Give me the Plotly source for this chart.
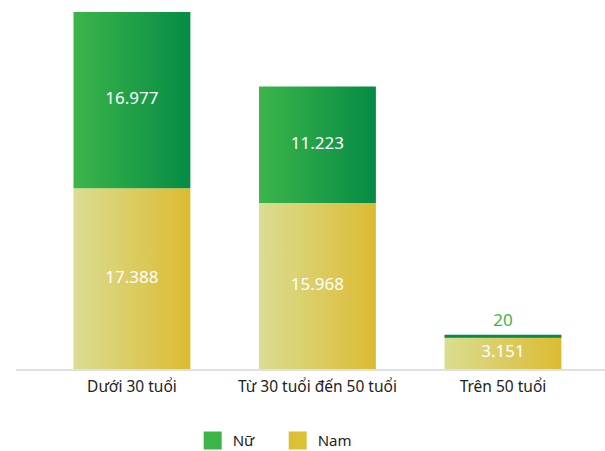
import plotly.graph_objects as go

categories = ["Dưới 30 tuổi", "Từ 30 tuổi đến 50 tuổi", "Trên 50 tuổi"]
nam = [17388, 15968, 3151]
nu = [16977, 11223, 20]
nam_labels = ["17.388", "15.968", "3.151"]
nu_labels = ["16.977", "11.223", "20"]

font_name = "Noto Sans"
green_scale = [[0, "#3cb54a"], [1, "#058b45"]]
yellow_scale = [[0, "#dadd92"], [1, "#dcbb32"]]
bar_w = 0.63

fig = go.Figure()


def add_bar(i, base, value, scale, line_w=0):
    x0, x1 = i - bar_w / 2, i + bar_w / 2
    fig.add_trace(go.Scatter(
        x=[x0, x1, x1, x0, x0],
        y=[base, base, base + value, base + value, base],
        mode="lines", fill="toself",
        line=dict(width=line_w, color=scale[1][1]),
        fillgradient=dict(type="horizontal", colorscale=scale, start=x0, stop=x1),
        hoverinfo="skip", showlegend=False,
    ))


for i in range(len(categories)):
    add_bar(i, 0, nam[i], yellow_scale)
    # tiny values get a thin outline so they stay visible
    add_bar(i, nam[i], nu[i], green_scale, line_w=3 if nu[i] < 200 else 0)

# value labels
big = [k for k in range(len(categories)) if nu[k] >= 200]
small = [k for k in range(len(categories)) if nu[k] < 200]
fig.add_trace(go.Scatter(
    x=list(range(len(categories))), y=[v / 2 for v in nam], text=nam_labels,
    mode="text", textfont=dict(color="white", size=17, family=font_name),
    hoverinfo="skip", showlegend=False,
))
fig.add_trace(go.Scatter(
    x=big, y=[nam[k] + nu[k] / 2 for k in big], text=[nu_labels[k] for k in big],
    mode="text", textfont=dict(color="white", size=17, family=font_name),
    hoverinfo="skip", showlegend=False,
))
fig.add_trace(go.Scatter(
    x=small, y=[nam[k] + nu[k] for k in small], text=[nu_labels[k] for k in small],
    mode="markers+text", textposition="top center",
    marker=dict(size=8, opacity=0),
    textfont=dict(color="#3cb54a", size=17, family=font_name),
    hoverinfo="skip", showlegend=False,
))

# legend entries
for name, color in [("Nữ", "#3cb54a"), ("Nam", "#dcc035")]:
    fig.add_trace(go.Scatter(
        x=[None], y=[None], mode="markers", name=name,
        marker=dict(symbol="square", size=16, color=color, line=dict(width=2, color=color)),
    ))

fig.update_layout(
    width=605, height=451,
    margin=dict(l=16, r=0, t=5, b=82, autoexpand=False),
    plot_bgcolor="white", paper_bgcolor="white",
    font=dict(family=font_name, size=15.5, color="#222222"),
    showlegend=True,
    legend=dict(
        orientation="h", x=0.3, xanchor="left", y=-0.197, yanchor="middle",
        font=dict(size=15, color="#222222"), itemsizing="trace", entrywidth=40,
    ),
    xaxis=dict(
        range=[-0.625, 2.55], tickvals=list(range(len(categories))), ticktext=categories,
        showgrid=False, zeroline=False, showline=True, linecolor="#e0e0e0", linewidth=2,
        ticks="", ticklabelstandoff=2, fixedrange=True,
    ),
    yaxis=dict(range=[0, 35040], visible=False, fixedrange=True),
)

fig.write_html("out.html", config={"displayModeBar": False},
               post_script="document.body.style.margin='0';")
